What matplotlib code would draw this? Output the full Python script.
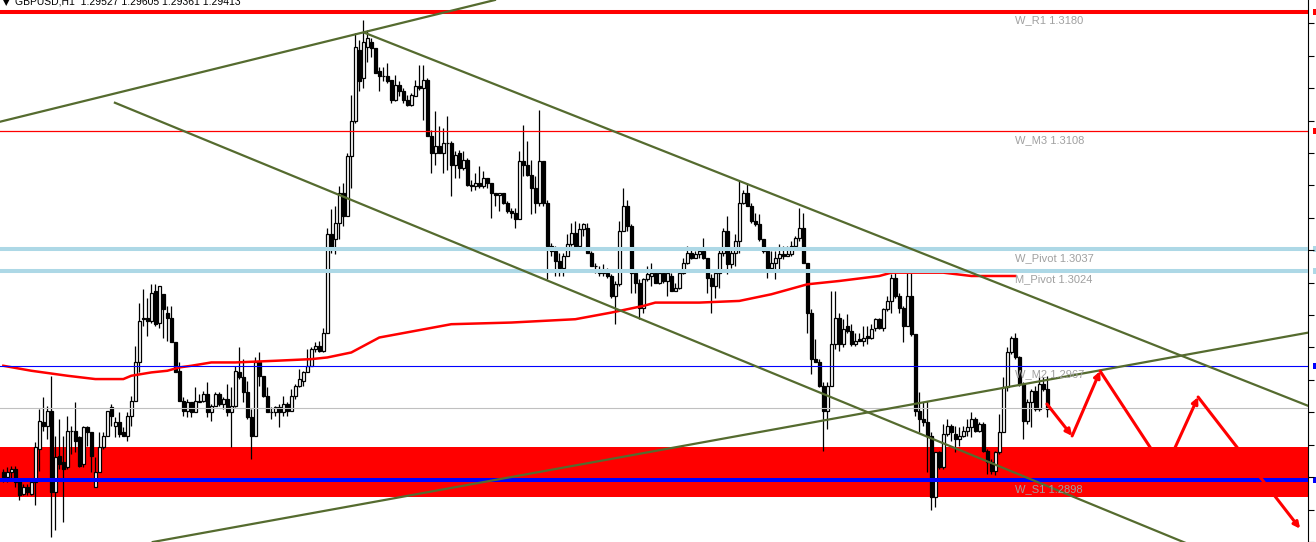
import matplotlib
matplotlib.use('Agg')
import matplotlib.pyplot as plt
import matplotlib.transforms as mtransforms
import numpy as np

# GBPUSD H1 candles, last 4 digits of price (2953 -> 1.2953)
opens = [2903, 2900, 2903, 2905, 2898, 2890, 2894, 2890, 2897, 2917,
         2933, 2931, 2940, 2891, 2913, 2909, 2906, 2928, 2928, 2924,
         2908, 2930, 2927, 2894, 2903, 2918, 2925, 2942, 2931, 2933,
         2927, 2925, 2937, 2946, 2969, 2996, 2996, 2994, 3012, 2993,
         3010, 2999, 2996, 2981, 2964, 2946, 2940, 2945, 2939, 2945,
         2946, 2950, 2939, 2943, 2950, 2944, 2947, 2939, 2943, 2963,
         2960, 2951, 2936, 2925, 2969, 2961, 2949, 2939, 2939, 2942,
         2939, 2944, 2940, 2949, 2955, 2958, 2963, 2967, 2977, 2979,
         2976, 2987, 3046, 3043, 3053, 3071, 3057, 3093, 3114, 3157,
         3140, 3159, 3162, 3158, 3144, 3141, 3141, 3139, 3127, 3136,
         3132, 3127, 3124, 3129, 3135, 3134, 3139, 3105, 3095, 3099,
         3095, 3101, 3101, 3088, 3095, 3086, 3091, 3076, 3075, 3077,
         3075, 3080, 3077, 3071, 3070, 3071, 3065, 3060, 3059, 3055,
         3090, 3088, 3082, 3074, 3065, 3090, 3065, 3039, 3036, 3030,
         3026, 3033, 3040, 3047, 3039, 3049, 3050, 3035, 3027, 3024,
         3024, 3023, 3021, 3009, 3016, 3048, 3063, 3051, 3023, 3017,
         3002, 3019, 3021, 3023, 3017, 3023, 3018, 3021, 3012, 3014,
         3023, 3029, 3035, 3032, 3034, 3036, 3032, 3020, 3015, 3023,
         3035, 3048, 3028, 3035, 3042, 3065, 3071, 3063, 3054, 3052,
         3043, 3036, 3026, 3029, 3032, 3034, 3033, 3034, 3039, 3044,
         3050, 3029, 2999, 2971, 2969, 2955, 2940, 2955, 2980, 2996,
         2980, 2991, 2988, 2980, 2983, 2982, 2985, 2984, 2990, 2995,
         2990, 3001, 3006, 3020, 3009, 3002, 2991, 3009, 2986, 2940,
         2935, 2933, 2925, 2888, 2915, 2906, 2926, 2931, 2926, 2923,
         2925, 2928, 2930, 2935, 2928, 2932, 2916, 2909, 2904, 2915,
         2927, 2954, 2975, 2984, 2972, 2956, 2934, 2945, 2952, 2941,
         2956, 2953]
highs = [2905, 2906, 2907, 2907, 2898, 2896, 2896, 2897, 2921, 2941,
         2948, 2943, 2961, 2925, 2935, 2925, 2937, 2931, 2945, 2925,
         2931, 2931, 2927, 2912, 2927, 2927, 2940, 2944, 2936, 2939,
         2930, 2939, 2949, 2979, 3005, 3013, 3008, 3016, 3016, 3015,
         3010, 3003, 3003, 2981, 2969, 2948, 2947, 2945, 2954, 2950,
         2952, 2957, 2944, 2951, 2951, 2948, 2956, 2954, 2967, 2978,
         2971, 2958, 2941, 2972, 2975, 2961, 2954, 2942, 2943, 2944,
         2949, 2945, 2953, 2956, 2965, 2964, 2977, 2978, 2981, 2982,
         2990, 3050, 3061, 3063, 3075, 3077, 3095, 3130, 3167, 3163,
         3175, 3169, 3164, 3158, 3147, 3147, 3149, 3139, 3142, 3138,
         3134, 3130, 3131, 3139, 3148, 3148, 3140, 3109, 3120, 3111,
         3110, 3117, 3102, 3096, 3097, 3096, 3092, 3079, 3083, 3087,
         3084, 3080, 3077, 3071, 3071, 3071, 3066, 3062, 3062, 3096,
         3112, 3102, 3091, 3081, 3121, 3090, 3067, 3041, 3039, 3035,
         3035, 3046, 3053, 3054, 3053, 3053, 3053, 3036, 3029, 3027,
         3028, 3026, 3022, 3018, 3054, 3074, 3067, 3052, 3025, 3019,
         3020, 3027, 3029, 3023, 3024, 3024, 3024, 3023, 3017, 3024,
         3032, 3039, 3037, 3036, 3038, 3044, 3032, 3022, 3023, 3037,
         3050, 3057, 3037, 3046, 3078, 3073, 3077, 3065, 3059, 3058,
         3043, 3037, 3036, 3036, 3040, 3039, 3039, 3042, 3045, 3062,
         3059, 3029, 3001, 2983, 2971, 2957, 2957, 3012, 3012, 2999,
         2995, 2998, 2992, 2987, 2987, 2991, 2991, 2992, 2996, 2996,
         3002, 3009, 3022, 3023, 3011, 3003, 3023, 3023, 2986, 2951,
         2945, 2946, 2927, 2915, 2916, 2932, 2935, 2932, 2931, 2930,
         2931, 2935, 2939, 2936, 2933, 2933, 2917, 2911, 2916, 2938,
         2960, 2978, 2985, 2987, 2973, 2957, 2947, 2953, 2955, 2961,
         2960, 2961]
lows = [2897, 2897, 2899, 2894, 2886, 2889, 2889, 2889, 2883, 2904,
        2928, 2923, 2864, 2868, 2905, 2873, 2905, 2914, 2915, 2906,
        2906, 2919, 2903, 2894, 2903, 2917, 2925, 2931, 2924, 2924,
        2925, 2922, 2931, 2946, 2963, 2991, 2985, 2993, 2991, 2990,
        2984, 2982, 2981, 2963, 2946, 2937, 2936, 2936, 2939, 2945,
        2945, 2936, 2934, 2943, 2943, 2941, 2937, 2918, 2942, 2959,
        2945, 2935, 2911, 2925, 2955, 2948, 2939, 2935, 2937, 2930,
        2937, 2937, 2940, 2947, 2954, 2955, 2963, 2967, 2975, 2975,
        2975, 2987, 3035, 3034, 3043, 3051, 3057, 3074, 3113, 3132,
        3134, 3150, 3153, 3143, 3132, 3138, 3137, 3125, 3126, 3129,
        3125, 3123, 3123, 3129, 3133, 3115, 3105, 3083, 3088, 3095,
        3083, 3085, 3069, 3080, 3080, 3085, 3075, 3072, 3073, 3074,
        3074, 3074, 3056, 3063, 3060, 3064, 3059, 3056, 3050, 3055,
        3081, 3081, 3058, 3059, 3063, 3063, 3019, 3033, 3021, 3021,
        3021, 3033, 3039, 3039, 3039, 3045, 3035, 3027, 3023, 3021,
        3021, 3020, 3008, 2992, 3015, 3048, 3048, 3011, 3011, 2995,
        2999, 3018, 3015, 3017, 3016, 3017, 3009, 3012, 3012, 3013,
        3022, 3028, 3031, 3032, 3032, 3031, 3011, 2999, 3008, 3014,
        3033, 3022, 3026, 3027, 3035, 3064, 3063, 3053, 3051, 3042,
        3035, 3020, 3025, 3019, 3025, 3031, 3033, 3033, 3039, 3042,
        3029, 2987, 2962, 2969, 2954, 2916, 2929, 2955, 2977, 2976,
        2978, 2987, 2979, 2979, 2982, 2979, 2980, 2983, 2988, 2989,
        2988, 3000, 2999, 3008, 2999, 2981, 2991, 2985, 2937, 2927,
        2931, 2903, 2880, 2882, 2905, 2905, 2925, 2922, 2915, 2919,
        2924, 2925, 2924, 2927, 2927, 2915, 2902, 2902, 2901, 2914,
        2927, 2952, 2974, 2971, 2955, 2923, 2932, 2930, 2940, 2940,
        2952, 2936]
closes = [2900, 2903, 2905, 2897, 2889, 2894, 2891, 2897, 2918, 2934,
          2931, 2940, 2891, 2912, 2908, 2905, 2928, 2928, 2922, 2907,
          2930, 2927, 2913, 2903, 2918, 2925, 2940, 2937, 2933, 2926,
          2925, 2937, 2946, 2969, 2994, 2995, 2994, 3011, 2992, 3015,
          3001, 2996, 2981, 2963, 2946, 2940, 2945, 2939, 2946, 2946,
          2950, 2939, 2943, 2950, 2944, 2947, 2939, 2943, 2964, 2960,
          2951, 2936, 2925, 2969, 2961, 2949, 2939, 2939, 2942, 2939,
          2944, 2940, 2949, 2955, 2959, 2963, 2967, 2977, 2979, 2976,
          2987, 3046, 3038, 3053, 3071, 3057, 3093, 3114, 3159, 3138,
          3162, 3164, 3158, 3143, 3141, 3141, 3138, 3127, 3136, 3132,
          3127, 3124, 3130, 3135, 3134, 3139, 3105, 3095, 3099, 3095,
          3101, 3101, 3088, 3094, 3086, 3091, 3076, 3075, 3077, 3075,
          3080, 3077, 3071, 3070, 3071, 3065, 3060, 3059, 3055, 3090,
          3088, 3082, 3074, 3065, 3090, 3065, 3039, 3036, 3030, 3026,
          3033, 3040, 3047, 3039, 3049, 3052, 3035, 3027, 3027, 3023,
          3023, 3021, 3009, 3016, 3048, 3063, 3051, 3023, 3017, 3002,
          3019, 3022, 3023, 3017, 3023, 3018, 3023, 3012, 3014, 3023,
          3029, 3035, 3032, 3034, 3036, 3032, 3020, 3015, 3023, 3035,
          3048, 3028, 3035, 3042, 3065, 3071, 3063, 3054, 3052, 3043,
          3036, 3026, 3029, 3032, 3034, 3033, 3034, 3039, 3044, 3050,
          3029, 2999, 2971, 2969, 2955, 2940, 2955, 2980, 2996, 2980,
          2989, 2988, 2980, 2982, 2982, 2984, 2984, 2989, 2995, 2990,
          3001, 3006, 3020, 3009, 3002, 2991, 3009, 2986, 2940, 2935,
          2933, 2925, 2888, 2915, 2906, 2926, 2931, 2927, 2923, 2925,
          2928, 2930, 2935, 2928, 2932, 2916, 2909, 2904, 2915, 2927,
          2954, 2975, 2984, 2972, 2956, 2934, 2945, 2952, 2941, 2956,
          2953, 2941]

# moving average (read at a few bars)
ma_bar = [0, 7, 16, 23, 30, 32, 37, 41, 44, 47, 52, 58, 68, 77, 81, 87, 94,
          112, 127, 143, 152, 160, 163, 174, 184, 192, 201, 209, 219, 222,
          235, 242, 253]
ma_val = [2967, 2964, 2961, 2959, 2959, 2961, 2963, 2964, 2966, 2967, 2969,
          2969, 2970, 2971, 2972, 2975, 2984, 2992, 2993, 2995, 2999, 3003,
          3005, 3005, 3006, 3010, 3016, 3018, 3021, 3023, 3023, 3021, 3021]

# pivot levels
level_names = ['W_R1', 'W_M3', 'W_Pivot', 'M_Pivot', 'W_M2', 'W_S1']
level_prices = [1.3180, 1.3108, 1.3037, 1.3024, 1.2967, 1.2898]
bid = 1.29413
zone = (1.28882, 1.29182)

# trend lines: (bar, price) anchors
trend_a = [(-0.8, 1.31138), (122.9, 1.3187)]
trend_b = [(90.4, 1.31672), (328.2, 1.2941)]
trend_c = [(27.9, 1.31252), (294.2, 1.28618)]
trend_d = [(39.2, 1.28618), (328.2, 1.29878)]

# projected path (red arrows)
path_bar = [260.9, 267.2, 274.2, 290.4, 298.7, 324.2]
path_price = [1.2944, 1.29248, 1.29638, 1.29044, 1.29482, 1.2869]


def price(v):
    return 1 + np.array(v, dtype=float) / 10000.0


O, H, L, C = price(opens), price(highs), price(lows), price(closes)
x = np.arange(len(O))

fig = plt.figure(figsize=(13.16, 5.42), dpi=100)
ax = fig.add_axes([0, 0, 1308 / 1316, 1])
ax.set_xlim(-0.83, 326.17)
ax.set_ylim(1.28618, 1.3187)

# red zone
ax.axhspan(zone[0], zone[1], color='#ff0000', lw=0, zorder=1)

# candles
ax.vlines(x, L, H, color='black', lw=0.9, zorder=2)
up = C >= O
bottom = np.minimum(O, C)
height = np.abs(C - O)
ax.bar(x[up], height[up], bottom=bottom[up], width=0.62, color='white',
       edgecolor='black', linewidth=0.9, zorder=3)
ax.bar(x[~up], height[~up], bottom=bottom[~up], width=0.62, color='black',
       edgecolor='black', linewidth=0.9, zorder=3)

# MA
ax.plot(ma_bar, price(ma_val), color='#ff0000', lw=1.8, zorder=4)

# levels
lv_color = ['#ff0000', '#ff0000', '#add8e6', '#add8e6', '#0000ff', '#0000ff']
lv_width = [2.9, 0.9, 2.9, 2.9, 0.8, 2.9]
tr = mtransforms.blended_transform_factory(ax.transAxes, ax.transData)
for name, p, c, w in zip(level_names, level_prices, lv_color, lv_width):
    ax.axhline(p, color=c, lw=w, zorder=5)
    ax.annotate('%s %.4f' % (name, p), xy=(252.9, p), xytext=(0, -2.5),
                textcoords='offset points', ha='left', va='top',
                fontsize=8, color='#a0a0a0', family='Liberation Sans',
                zorder=6)
    ax.add_patch(plt.Rectangle((1.0035, p - 0.00018), 0.003, 0.00036,
                               transform=tr, color=c, clip_on=False, lw=0))
ax.axhline(bid, color='#c0c0c0', lw=0.8, zorder=4)

# trend lines
olive = '#556b2f'
ax.axline(trend_a[0], trend_a[1], color=olive, lw=1.6, zorder=5)
ax.axline(trend_d[0], trend_d[1], color=olive, lw=1.6, zorder=5)
for (x0, y0), (x1, y1) in [trend_b, trend_c]:
    k = (y1 - y0) / (x1 - x0)
    ax.plot([x0, 400], [y0, y0 + k * (400 - x0)], color=olive, lw=1.6,
            zorder=5)

# arrows
for i in range(len(path_bar) - 1):
    ax.annotate('', xy=(path_bar[i + 1], path_price[i + 1]),
                xytext=(path_bar[i], path_price[i]),
                arrowprops=dict(arrowstyle='-|>', color='#ff0000', lw=2.2,
                                mutation_scale=9, shrinkA=0, shrinkB=0),
                zorder=6)

# axes look
for s in ['left', 'top', 'bottom']:
    ax.spines[s].set_visible(False)
ax.spines['right'].set_linewidth(0.8)
ax.set_xticks([])
ax.yaxis.tick_right()
ax.set_yticks(np.arange(1.3173, 1.285, -0.00195))
ax.tick_params(axis='y', length=4, width=0.8, direction='out',
               labelright=False)

fig.text(3 / 1316, 1 - 5 / 542, '\u25bc', fontsize=6, va='baseline',
         family='DejaVu Sans')
fig.text(15 / 1316, 1 - 5 / 542,
         'GBPUSD,H1  1.29527 1.29605 1.29361 1.29413', fontsize=7.5,
         va='baseline', family='Liberation Sans')

plt.savefig('out.png', dpi=100)
